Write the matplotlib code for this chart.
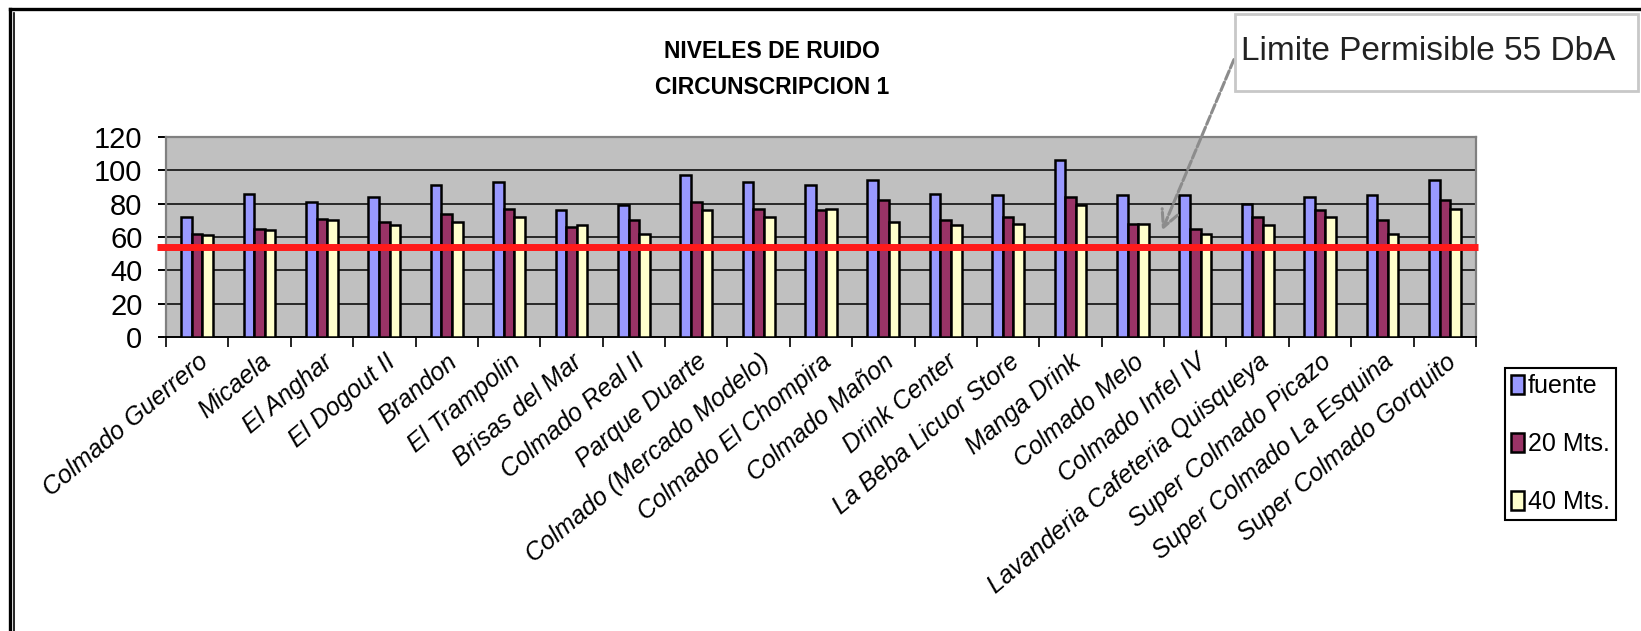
"""
Niveles de ruido - circunscripcion 1 (barras agrupadas con limite permisible)
"""
import numpy as np
from matplotlib import pyplot as plt
from matplotlib.lines import Line2D
from matplotlib.patches import Rectangle

# datos
categorias = ['Colmado Guerrero', 'Micaela', 'El Anghar', 'El Dogout II', 'Brandon',
              'El Trampolin', 'Brisas del Mar', 'Colmado Real II', 'Parque Duarte',
              'Colmado (Mercado Modelo)', 'Colmado El Chompira', 'Colmado Mañon',
              'Drink Center', 'La Beba Licuor Store', 'Manga Drink', 'Colmado Melo',
              'Colmado Infel IV', 'Lavanderia Cafeteria Quisqueya', 'Super Colmado Picazo',
              'Super Colmado La Esquina', 'Super Colmado Gorquito']
fuente = [72, 86, 81, 84, 91, 93, 76, 79, 97, 93, 91, 94, 86, 85, 106, 85, 85, 80, 84, 85, 94]
mts_20 = [62, 65, 71, 69, 74, 77, 66, 70, 81, 77, 76, 82, 70, 72, 84, 68, 65, 72, 76, 70, 82]
mts_40 = [61, 64, 70, 67, 69, 72, 67, 62, 76, 72, 77, 69, 67, 68, 79, 68, 62, 67, 72, 62, 77]
series = ['fuente', '20 Mts.', '40 Mts.']
limite = 54
yticks = [0, 20, 40, 60, 80, 100, 120]

W, H = 1641, 631
plt.rcParams['font.family'] = ['Liberation Sans', 'DejaVu Sans']


def fx(px):
    return px / W


def fy(py):
    return 1 - py / H


fig = plt.figure(figsize=(W / 100, H / 100), dpi=100)
ax = fig.add_axes([fx(166), fy(337), fx(1476) - fx(166), fy(137) - fy(337)])
ax.set_facecolor('#C0C0C0')

x = np.arange(len(categorias))
w = 0.17
colores = ['#9999FF', '#993366', '#FFFFCC']
for i, (vals, col, lab) in enumerate(zip([fuente, mts_20, mts_40], colores, series)):
    ax.bar(x + (i - 1) * w, vals, w, color=col, edgecolor='black', linewidth=1.8,
           label=lab, zorder=3)

# grid
for v in yticks[1:-1]:
    ax.axhline(v, color='black', lw=1.1, zorder=1)

ax.set_xlim(-0.5, len(categorias) - 0.5)
ax.set_ylim(0, 120)
ax.set_yticks(yticks)
ax.set_yticklabels([str(v) for v in yticks], fontsize=21)
ax.tick_params(axis='y', direction='out', length=6, width=1.4, pad=11)

ax.set_xticks(np.arange(len(categorias) + 1) - 0.5)
ax.set_xticklabels([])
ax.set_xticks(x, minor=True)
ax.set_xticklabels(categorias, minor=True, rotation=40, ha='right', va='top',
                   rotation_mode='anchor', fontsize=18, style='italic')
ax.tick_params(axis='x', which='major', direction='out', length=7, width=1.2)
ax.tick_params(axis='x', which='minor', length=0, pad=9)

for s in ['left', 'right', 'top']:
    ax.spines[s].set_color('#808080')
    ax.spines[s].set_linewidth(1.6)
ax.spines['bottom'].set_color('black')
ax.spines['bottom'].set_linewidth(1.4)

# linea de limite permisible
ax.hlines(limite, -0.65, len(categorias) - 0.47, colors='#FF1A1A', lw=5, zorder=4,
          clip_on=False)

# titulo
fig.text(fx(772), fy(40), 'NIVELES DE RUIDO\nCIRCUNSCRIPCION 1', ha='center', va='top',
         fontsize=16.5, fontweight='bold', linespacing=1.75)

# leyenda
leg = ax.legend(loc='upper left', bbox_to_anchor=(fx(1505), fy(368)),
                bbox_transform=fig.transFigure, borderaxespad=0, fontsize=18,
                fancybox=False, edgecolor='black', framealpha=1,
                handlelength=0.5, handleheight=0.8, handletextpad=0.15,
                labelspacing=1.35, borderpad=0.25)
leg.get_frame().set_linewidth(1.5)

# cuadro de anotacion
fig.patches.append(Rectangle((fx(1235), fy(91)), fx(1638) - fx(1235), fy(14) - fy(91),
                             transform=fig.transFigure, facecolor='white',
                             edgecolor='#C8C8C8', lw=2, zorder=5))
fig.text(fx(1428), fy(51), 'Limite Permisible 55 DbA', ha='center', va='center',
         fontsize=24, color='#222222', zorder=6)
ax.annotate('', xy=(15.45, 62.4), xycoords='data',
            xytext=(1235, H - 57), textcoords='figure pixels',
            arrowprops=dict(arrowstyle='->', color='#8C8C8C', lw=2.2,
                            linestyle=(0, (3, 1)), mutation_scale=30),
            zorder=6)

# marco exterior
fig.add_artist(Line2D([fx(9.5), fx(9.5)], [fy(8.5), 0], color='black', lw=2.4))
fig.add_artist(Line2D([fx(14), fx(14)], [fy(13), 0], color='black', lw=1.2))
fig.add_artist(Line2D([fx(9.5), 1], [fy(8.5), fy(8.5)], color='black', lw=2.4))

fig.savefig('out.png', dpi=100)
